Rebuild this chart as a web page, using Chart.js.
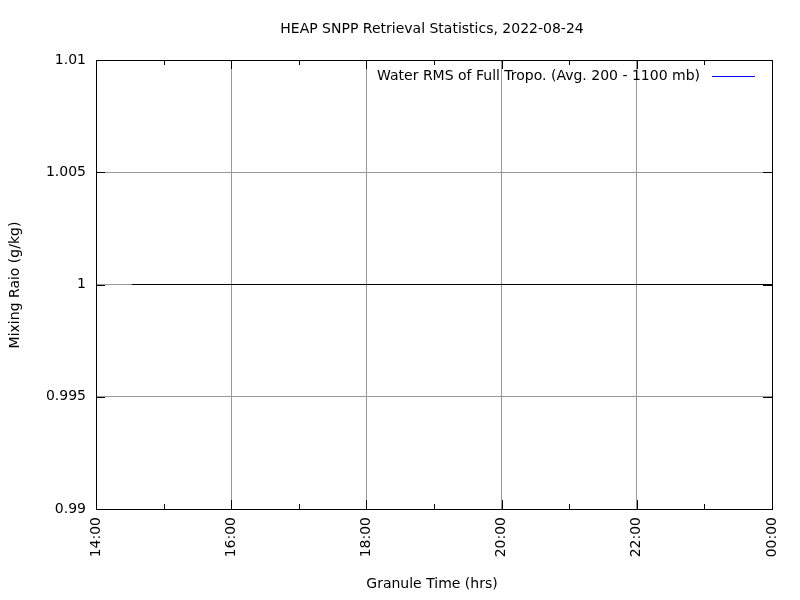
<!DOCTYPE html>
<html><head><meta charset="utf-8">
<script src="https://cdn.jsdelivr.net/npm/chart.js@4/dist/chart.umd.min.js"></script>
<style>html,body{margin:0;background:#fff}#w{width:800px;height:600px}</style>
</head><body><div id="w"><canvas id="c"></canvas></div>
<script>
const chartTitle = "HEAP SNPP Retrieval Statistics, 2022-08-24";
const xTitle = "Granule Time (hrs)";
const yTitle = "Mixing Raio (g/kg)";
const legendLabel = "Water RMS of Full Tropo. (Avg. 200 - 1100 mb)";
const lineX = [14.53, 24];
const lineY = [1, 1];
const seriesValues = [];
const yTickLabels = {"1.01":"1.01","1.005":"1.005","1":"1","0.995":"0.995","0.99":"0.99"};
const F = "'DejaVu Sans', sans-serif";
const fmt = h => String(h % 24).padStart(2,"0") + ":00";

const textPlugin = {
  id:'txt',
  afterDraw(ch){
    const c = ch.ctx, a = ch.chartArea;
    c.save();
    c.fillStyle='#000'; c.font='14px '+F; c.textAlign='center'; c.textBaseline='middle';
    c.fillText(chartTitle, 432, 29);
    c.fillText(xTitle, 432, 584);
    c.translate(15, 285); c.rotate(-Math.PI/2); c.fillText(yTitle, 0, 0);
    c.restore();
    c.save();
    c.font='14px '+F; c.textAlign='right'; c.textBaseline='middle'; c.fillStyle='#000';
    c.fillText(legendLabel, 700, 76);
    c.strokeStyle='#0000ff'; c.lineWidth=1;
    c.beginPath(); c.moveTo(712,76.5); c.lineTo(755,76.5); c.stroke();
    // border
    c.strokeStyle='#000'; c.strokeRect(a.left+0.5,a.top+0.5,a.right-a.left,a.bottom-a.top);
    // minor/major tick marks
    const xs = ch.scales.x, ys = ch.scales.y;
    for(let h=14; h<=24; h++){
      const x = Math.round(xs.getPixelForValue(h))+0.5, L = h%2 ? 5 : 9;
      c.beginPath(); c.moveTo(x,a.bottom); c.lineTo(x,a.bottom-L); c.moveTo(x,a.top); c.lineTo(x,a.top+L); c.stroke();
    }
    for(let v=0; v<=4; v++){
      const y = Math.round(ys.getPixelForValue(0.99+v*0.005))+0.5;
      c.beginPath(); c.moveTo(a.left,y); c.lineTo(a.left+9,y); c.moveTo(a.right,y); c.lineTo(a.right-9,y); c.stroke();
    }
    c.restore();
  }
};

new Chart(document.getElementById('c'), {
  type:'line',
  data:{datasets:[
    {label:'level', data:lineX.map((x,i)=>({x, y:lineY[i]})), borderColor:'#000', borderWidth:1, pointRadius:0},
    {label:legendLabel, data:seriesValues, borderColor:'#0000ff', borderWidth:1, pointRadius:0}
  ]},
  options:{
    responsive:true, maintainAspectRatio:false, animation:false,
    layout:{padding:{top:60,right:28,left:0,bottom:0}},
    plugins:{legend:{display:false}, title:{display:false}, tooltip:{enabled:false}},
    scales:{
      x:{type:'linear', min:14, max:24,
        afterFit:s=>{s.height=91;},
        border:{display:false},
        grid:{color:ctx=>ctx.tick && ctx.tick.value%2===0 && ctx.tick.value>14 && ctx.tick.value<24 ? '#999':'transparent', tickLength:0, drawTicks:false},
        ticks:{stepSize:1, autoSkip:false, maxRotation:90, minRotation:90, color:'#000', font:{family:F,size:14}, padding:8,
          callback:v=> v%2===0 ? fmt(v) : ''}},
      y:{min:0.99, max:1.01,
        afterFit:s=>{s.width=96;},
        border:{display:false},
        grid:{color:ctx=>ctx.tick && ctx.tick.value>0.991 && ctx.tick.value<1.009 ? '#999':'transparent', drawTicks:false},
        ticks:{stepSize:0.005, color:'#000', font:{family:F,size:14}, padding:10,
          callback:v=> yTickLabels[String(+v.toFixed(3))] ?? ''}}
    },
    elements:{line:{tension:0}}
  },
  plugins:[textPlugin]
});
// dotted grid
Chart.defaults.borderColor='#999';
</script></body></html>
